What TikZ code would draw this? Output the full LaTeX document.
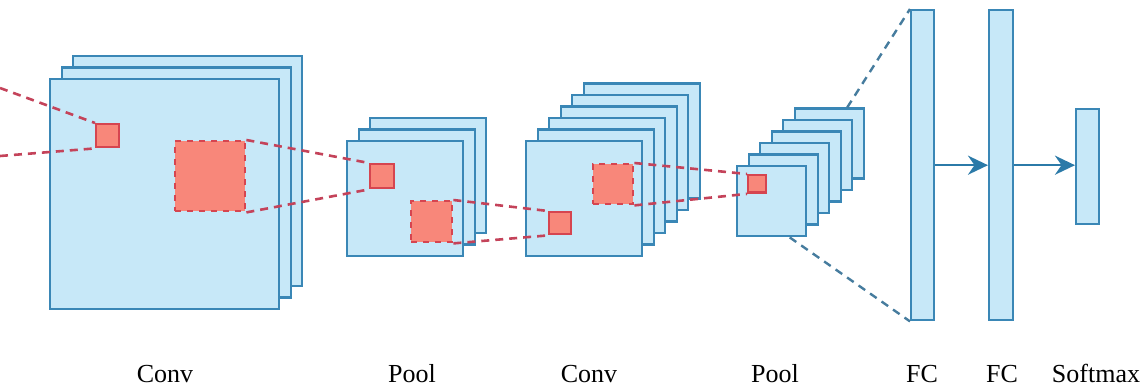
\documentclass[tikz,border=0pt]{standalone}
\usepackage{fontspec}
\setmainfont{Liberation Serif}
\usetikzlibrary{arrows.meta}

\definecolor{mapfill}{HTML}{C7E8F8}
\definecolor{mapline}{HTML}{3A87B6}
\definecolor{rffill}{HTML}{F8877A}
\definecolor{rfline}{HTML}{D64550}
\definecolor{linkred}{HTML}{C4435A}
\definecolor{linkblue}{HTML}{467C9E}
\definecolor{arrowblue}{HTML}{2B7AA8}

\tikzset{
  fmap/.style 2 args={draw=mapline, fill=mapfill, line width=1.2pt, inner sep=0pt,
    anchor=north west, minimum width=#1, minimum height=#2},
  rfield/.style={draw=rfline, fill=rffill, line width=1.2pt, inner sep=0pt,
    anchor=north west, minimum size=#1},
  redlink/.style={draw=linkred, line width=1.3pt, dash pattern=on 4pt off 3pt},
  bluelink/.style={draw=linkblue, line width=1.2pt, dash pattern=on 4pt off 3pt},
  fcarrow/.style={draw=arrowblue, line width=1.3pt, -{Stealth[length=10pt, width=9.5pt]}},
  layername/.style={anchor=base, font=\fontsize{13pt}{15pt}\selectfont}
}

\begin{document}
\begin{tikzpicture}[x=0.5pt, y=-0.5pt]
  \useasboundingbox (0,0) rectangle (1146,389);

  % feature map stacks, back to front
  \foreach \k in {2,1,0}
    \node[fmap={114.5pt}{115pt}] (c1-\k) at ({49+11.5*\k},{78-11.5*\k}) {};
  \foreach \k in {2,1,0}
    \node[fmap={58pt}{57.5pt}] (p1-\k) at ({346+11.5*\k},{140-11.5*\k}) {};
  \foreach \k in {5,4,...,0}
    \node[fmap={58pt}{57.5pt}] (c2-\k) at ({525+11.5*\k},{140-11.5*\k}) {};
  \foreach \k in {5,4,...,0}
    \node[fmap={34.5pt}{35pt}] (p2-\k) at ({736+11.5*\k},{165-11.5*\k}) {};

  % fully connected layers
  \node[fmap={11.5pt}{155pt}] (fc1) at (910,9) {};
  \node[fmap={12pt}{155pt}] (fc2) at (988,9) {};
  \node[fmap={11.5pt}{57.5pt}] (soft) at (1075,108) {};

  % receptive fields
  \node[rfield=11.5pt] (r1) at (95,123) {};
  \node[rfield=35pt, dashed] (d1) at (174,140) {};
  \node[rfield=12pt] (r2) at (369,163) {};
  \node[rfield=20.5pt, dashed] (d2) at (410,200) {};
  \node[rfield=11pt] (r3) at (548,211) {};
  \node[rfield=20pt, dashed] (d3) at (592,163) {};
  \node[rfield=8.75pt] (r4) at (747,174) {};

  % red links between fields
  \coordinate (in-a) at (0,88);
  \coordinate (in-b) at (0,156);
  \draw[redlink] (in-a) -- (r1.north west);
  \draw[redlink] (in-b) -- (r1.south west);
  \draw[redlink] (d1.north east) -- (r2.north west);
  \draw[redlink] (d1.south east) -- (r2.south west);
  \draw[redlink] (d2.north east) -- (r3.north west);
  \draw[redlink] (d2.south east) -- (r3.south west);
  \draw[redlink] (d3.north east) -- (r4.north west);
  \draw[redlink] (d3.south east) -- (r4.south west);

  % flatten into first FC
  \draw[bluelink] ([xshift=9pt]p2-5.north) -- (fc1.north west);
  \draw[bluelink] ([xshift=9pt]p2-0.south) -- (fc1.south west);

  \draw[fcarrow] (fc1.east) -- (fc2.west);
  \draw[fcarrow] (fc2.east) -- (fc2.east -| soft.west);

  % names
  \node[layername] (t1) at (165,383) {Conv};
  \node[layername] (t2) at (412,383) {Pool};
  \node[layername] (t3) at (589,383) {Conv};
  \node[layername] (t4) at (775,383) {Pool};
  \node[layername] (t5) at (922,383) {FC};
  \node[layername] (t6) at (1002,383) {FC};
  \node[layername] (t7) at (1096,383) {Softmax};
\end{tikzpicture}
\end{document}
